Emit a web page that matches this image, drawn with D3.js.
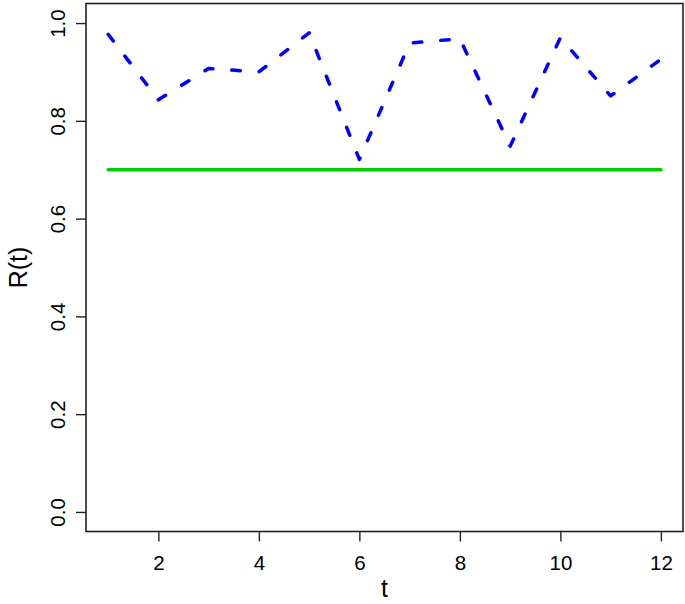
<!DOCTYPE html>
<html>
<head>
<meta charset="utf-8">
<script src="https://cdn.jsdelivr.net/npm/d3@7"></script>
<style>
  html, body { margin: 0; padding: 0; background: #fff; }
  svg { display: block; }
  text { font-family: "Liberation Sans", Arial, Helvetica, sans-serif; fill: #000; }
</style>
</head>
<body>
<svg id="chart" width="685" height="604"></svg>
<script>
// ---- data ----
const tValues = [1, 2, 3, 4, 5, 6, 7, 8, 9, 10, 11, 12];
const rValues = [0.977, 0.843, 0.907, 0.900, 0.980, 0.721, 0.959, 0.968, 0.748, 0.970, 0.851, 0.926];
const thresholdValue = 0.7;
const xTicks = [2, 4, 6, 8, 10, 12];
const yTicks = [0.0, 0.2, 0.4, 0.6, 0.8, 1.0];
const xLabel = "t";
const yLabel = "R(t)";

// ---- layout ----
const svg = d3.select("#chart");
const plotLeft = 86, plotRight = 683, plotTop = 3.5, plotBottom = 531.5;

const x = d3.scaleLinear().domain([0.56, 12.44]).range([plotLeft, plotRight]);
const y = d3.scaleLinear().domain([-0.04, 1.04]).range([plotBottom, plotTop]);

// threshold line
svg.append("line")
  .attr("x1", x(tValues[0])).attr("x2", x(tValues[tValues.length - 1]))
  .attr("y1", y(thresholdValue)).attr("y2", y(thresholdValue))
  .attr("stroke", "#00CD00").attr("stroke-width", 3.5)
  .attr("stroke-linecap", "round");

// dashed series
const line = d3.line().x((d, i) => x(tValues[i])).y(d => y(d));
svg.append("path")
  .datum(rValues)
  .attr("d", line)
  .attr("fill", "none")
  .attr("stroke", "#0000FF")
  .attr("stroke-width", 3.5)
  .attr("stroke-linecap", "round")
  .attr("stroke-linejoin", "round")
  .attr("stroke-dasharray", "8.5,19");

// box
svg.append("rect")
  .attr("x", plotLeft).attr("y", plotTop)
  .attr("width", plotRight - plotLeft).attr("height", plotBottom - plotTop)
  .attr("fill", "none").attr("stroke", "#222").attr("stroke-width", 1.6);

// x axis
const xAxis = d3.axisBottom(x).tickValues(xTicks).tickSize(10)
  .tickFormat(d3.format("d"));
const gx = svg.append("g").attr("transform", `translate(0,${plotBottom})`).call(xAxis);
gx.select(".domain").remove();
gx.selectAll(".tick line").attr("stroke", "#222").attr("stroke-width", 1.4);
gx.selectAll(".tick text")
  .attr("y", 38.5).attr("dy", null)
  .attr("font-size", 20.5)
  .style("font-family", '"Liberation Sans", Arial, sans-serif');

// y axis
const yAxis = d3.axisLeft(y).tickValues(yTicks).tickSize(10)
  .tickFormat(d3.format(".1f"));
const gy = svg.append("g").attr("transform", `translate(${plotLeft},0)`).call(yAxis);
gy.select(".domain").remove();
gy.selectAll(".tick line").attr("stroke", "#222").attr("stroke-width", 1.4);
gy.selectAll(".tick text")
  .attr("x", null).attr("dy", null)
  .attr("text-anchor", "middle")
  .attr("transform", "translate(-21,0) rotate(-90)")
  .attr("font-size", 20.5)
  .style("font-family", '"Liberation Sans", Arial, sans-serif');

// axis titles
svg.append("text")
  .attr("x", (plotLeft + plotRight) / 2).attr("y", 597)
  .attr("text-anchor", "middle").attr("font-size", 25)
  .text(xLabel);
svg.append("text")
  .attr("transform", `translate(27,${(plotTop + plotBottom) / 2}) rotate(-90)`)
  .attr("text-anchor", "middle").attr("font-size", 25)
  .text(yLabel);
</script>
</body>
</html>
